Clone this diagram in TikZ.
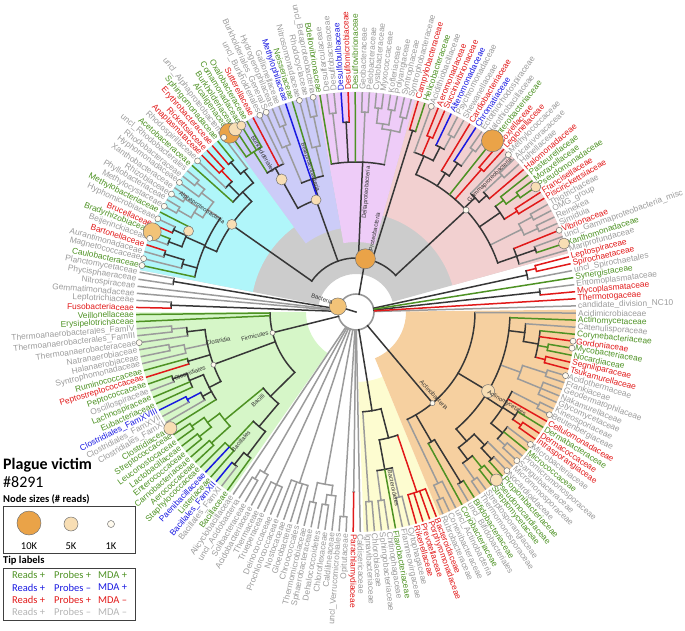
\documentclass[tikz,border=0pt]{standalone}
\usepackage{fontspec}
\setmainfont{Liberation Sans}
\newfontfamily\legendfont{Carlito}
\usepackage{tikz}
\usetikzlibrary{positioning}

\definecolor{tipG}{RGB}{78,146,36}
\definecolor{tipB}{RGB}{25,25,225}
\definecolor{tipR}{RGB}{225,25,25}
\definecolor{tipY}{RGB}{155,155,155}
\definecolor{legY}{RGB}{180,180,180}
\definecolor{dk}{RGB}{55,55,55}
\definecolor{ringgray}{RGB}{150,150,150}
\definecolor{secgray}{RGB}{204,204,204}
\definecolor{secrose}{RGB}{242,208,208}
\definecolor{secpink}{RGB}{238,204,248}
\definecolor{secviolet}{RGB}{204,204,248}
\definecolor{seccyan}{RGB}{176,246,250}
\definecolor{secgreen}{RGB}{214,246,200}
\definecolor{secyellow}{RGB}{253,252,208}
\definecolor{secorange}{RGB}{246,208,160}
\definecolor{nodeorange}{RGB}{234,163,72}
\definecolor{nodelight}{RGB}{242,195,120}
\definecolor{nodepeach}{RGB}{248,222,180}
\definecolor{nodeivory}{RGB}{255,250,238}

% arc of a clade between tips #1..#2 at radius #3, stem at tip #5 down to #4
\newcommand{\cladearc}[6]{%
  \pgfmathsetmacro\angA{1.6+(#1-1)*1.846}%
  \pgfmathsetmacro\angB{1.6+(#2-1)*1.846}%
  \pgfmathsetmacro\angM{1.6+(#5-1)*1.846}%
  \draw[branch,draw=#6] (\angA:#3pt) arc[start angle=\angA,end angle=\angB,radius=#3pt];%
  \draw[branch,draw=#6] (\angM:#3pt) -- (\angM:#4pt);%
}
\newcommand{\wedgefill}[5]{%
  \fill[#5] (#1:#3pt) arc[start angle=#1,end angle=#2,radius=#3pt] -- (#2:#4pt)
    arc[start angle=#2,end angle=#1,radius=#4pt] -- cycle;}
\newcommand{\tipdot}[3]{%
  \pgfmathsetmacro\angD{1.6+(#1-1)*1.846}%
  \node[sizedot,minimum size=#2pt,fill=#3] (d#1) at (\angD:219pt) {};}

\begin{document}
\begin{tikzpicture}[
  tiplab/.style={font=\fontsize{8.4}{9}\selectfont, inner sep=0pt},
  tipline/.style={line width=1.5pt},
  branch/.style={line width=1.5pt, line cap=rect},
  sizedot/.style={circle, draw=black!55, line width=0.5pt, inner sep=0pt},
  cladelab/.style={font=\fontsize{6}{7}\selectfont, text=black!80, inner sep=0.5pt},
  legtext/.style={font=\legendfont\fontsize{10.5}{12}\selectfont, inner sep=0pt}
]
\useasboundingbox (-356pt,-318pt) rectangle (329pt,312pt);

% clade backgrounds
\wedgefill{15.5}{169}{38}{220}{secgray}
\wedgefill{15.5}{74.5}{100}{220}{secrose}
\wedgefill{74.5}{100.3}{70}{220}{secpink}
\wedgefill{100.3}{126.2}{85}{220}{secviolet}
\wedgefill{126.2}{169}{105}{220}{seccyan}
\wedgefill{180.1}{235.1}{50}{220}{secgreen}
\wedgefill{272}{292.3}{70}{220}{secyellow}
\wedgefill{292.3}{360.6}{50}{220}{secorange}

% root
\draw[line width=1.6pt, draw=ringgray] (0,0) circle[radius=18pt];
\draw[branch,draw=dk] (0,0) -- (163:18pt);

% internal branches
\foreach \ca/\cb/\cr/\cp/\cm/\cs in {
  3/4/185/18/3.5/dk, 7/8/185/175/7.5/tipR, 6/7.5/175/18/6.75/dk,
  10/11/190/170/10.5/dk, 9/12/170/150/10.5/dk,
  13/14/200/185/13.5/tipY, 15/16/200/185/15.5/tipY, 13.5/15.5/185/150/14.5/tipY,
  17/18/190/175/17.5/tipR, 19/20/200/185/19.5/tipG, 19.5/21/185/175/20.25/tipG,
  17.5/20.25/175/150/18.875/dk,
  23/24/200/175/23.5/tipY, 22/23.5/175/165/22.75/dk, 22.75/25/165/150/23.875/dk,
  26/27/190/150/26.5/tipR,
  29/30/200/180/29.5/tipY, 29.5/31/180/165/30.25/dk, 30.25/32/165/150/31.125/dk,
  33/34/200/185/33.5/tipY, 33.5/35/185/170/34.25/dk, 36/37/190/170/36.5/tipR,
  34.25/38/170/150/36.125/dk,
  10.5/36.125/150/54/23.31/dk,
  39/40/190/54/39.5/dk,
  41/42/200/185/41.5/tipY, 43/44/205/190/43.5/tipY, 45/46/205/190/45.5/tipY,
  43.5/45.5/190/185/44.5/tipY, 41.5/44.5/185/150/43/tipY,
  47/48/200/150/47.5/tipY, 50/51/190/150/50.5/dk, 52/53/200/150/52.5/tipY,
  43/54/150/54/47.5/dk,
  55/56/200/170/55.5/tipY, 55.5/57/170/140/56.25/tipY,
  60/61/200/180/60.5/tipY, 60.5/62/180/140/61.25/tipY,
  56.25/61.25/140/119/58.75/dk,
  65/68/190/165/66.5/tipG, 63/66.5/165/119/64.75/dk,
  58.75/64.75/119/54/59.5/dk,
  70/71/195/180/70.5/dk, 69/70.5/180/165/69.75/dk,
  72/73/195/180/72.5/tipR, 72.5/74/180/165/73.25/dk,
  69.75/75/165/152/72.375/dk,
  76/77/205/195/76.5/tipY, 76.5/78/195/180/77.25/tipY,
  79/80/205/190/79.5/tipY, 81/82/205/190/81.5/tipY, 79.5/81.5/190/180/80.5/tipY,
  77.25/80.5/180/165/78.875/tipY,
  84/85/200/186/84.5/dk, 86/87/200/186/86.5/dk, 83/86.5/186/165/84.75/dk,
  88/89/200/180/88.5/dk, 88.5/90/180/165/89.25/dk,
  78.875/91/165/152/84.94/dk,
  72.375/84.94/152/54/78.66/dk,
  23.31/78.66/54/18/43.5/dk,
  92/93/185/18/92.5/dk, 96/97/185/18/96.5/dk,
  100/101/185/170/100.5/tipY, 100.5/102/170/152/101.25/dk,
  103/104/190/175/103.5/tipY, 103.5/105/175/152/104.25/tipY,
  106/107/175/152/106.5/dk,
  108/109/195/180/108.5/dk, 108.5/111/180/165/109.75/dk,
  112/113/190/175/112.5/tipB, 112.5/114/175/165/113.25/dk,
  109.75/115/165/152/112.375/dk,
  101.25/112.375/152/86/108.6/dk,
  116/117/200/185/116.5/tipG, 118/119/200/185/118.5/tipG,
  116.5/118.5/185/170/117.5/tipG, 120/121/195/170/120.5/tipG,
  117.5/120.5/170/120/119/tipG,
  122/124/185/150/123/tipG, 125/126/195/180/125.5/dk, 125.5/127/180/150/126.25/dk,
  123/126.25/150/120/124.6/dk,
  119/124.6/120/86/121.8/dk,
  98/121.8/86/18/105.2/dk,
  129/130/195/185/129.5/tipY, 129.5/131/185/18/130.25/tipY,
  132/134/190/18/133/tipY, 135/138/180/18/136.5/tipY,
  139/140/195/175/139.5/tipY, 141/142/195/185/141.5/tipY,
  141.5/143/185/175/142.25/tipY, 139.5/142.25/175/18/140.875/tipY,
  144/145/205/18/144.5/tipY, 145.9/146.1/180/18/146/tipY,
  148/149/190/100/148.5/tipY, 150/151/190/160/150.5/tipY, 153/154/190/160/153.5/tipY,
  150.5/153.5/160/130/152/dk, 155/158/190/130/156.5/tipR,
  152/156.5/130/100/154.25/dk, 148.5/154.25/100/18/151.4/dk,
  159/160/205/190/159.5/tipY, 159.5/161/190/119/160.25/tipY,
  163/164/200/150/163.5/dk, 162/163.5/150/119/162.75/dk,
  165/166/205/185/165.5/tipY, 167/168/200/185/167.5/tipG,
  165.5/167.5/185/170/166.5/dk, 169/170/200/185/169.5/dk,
  169.5/171/185/170/170.25/dk, 166.5/170.25/170/154/168.375/dk,
  172/173/200/190/172.5/tipY, 172.5/175/190/175/173.75/dk,
  176/177/200/190/176.5/tipR, 176.5/178/190/175/177.25/dk,
  180/181/205/175/180.5/tipY, 173.75/180.5/175/154/177.125/dk,
  182/184/200/175/183/tipY, 185/186/200/175/185.5/tipY, 183/185.5/175/154/184.25/tipY,
  187/188/195/185/187.5/tipR, 189/190/195/185/189.5/tipG,
  187.5/192/185/170/189.75/dk, 189.75/193/170/154/191.375/dk,
  168.375/194/154/119/178.4/dk,
  160.25/195/119/18/168.1/dk}
  {\cladearc{\ca}{\cb}{\cr}{\cp}{\cm}{\cs}}

% tips and their labels
\foreach \ix/\nm/\cl/\ri in {
 1/candidate\_division\_NC10/tipY/18, 2/Thermotogaceae/tipR/18,
 3/Mycoplasmataceae/tipR/185, 4/Entomoplasmataceae/tipY/185,
 5/Synergistaceae/tipG/18, 6/uncl\_Spirochaetales/tipY/175,
 7/Spirochaetaceae/tipR/185, 8/Leptospiraceae/tipR/185,
 9/Mariprofundaceae/tipY/170, 10/Xanthomonadaceae/tipG/190,
 11/uncl\_Gammaproteobacteria\_misc/tipY/190, 12/Vibrionaceae/tipR/170,
 13/Simiduia/tipY/200, 14/Reinekea/tipY/200, 15/OMG\_group/tipY/200,
 16/Thiotrichaceae/tipY/200, 17/Piscirickettsiaceae/tipR/190,
 18/Francisellaceae/tipR/190, 19/Pseudomonadaceae/tipG/200,
 20/Moraxellaceae/tipG/200, 21/Pasteurellaceae/tipG/185,
 22/Halomonadaceae/tipR/175, 23/Hahellaceae/tipY/200,
 24/Alcanivoracaceae/tipY/200, 25/Methylococcaceae/tipY/165,
 26/Legionellaceae/tipR/190, 27/Coxiellaceae/tipR/190,
 28/Enterobacteriaceae/tipG/150, 29/Halothiobacillaceae/tipY/200,
 30/Ectothiorhodospiraceae/tipY/200, 31/Chromatiaceae/tipB/180,
 32/Cardiobacteriaceae/tipR/165, 33/Shewanellaceae/tipY/200,
 34/Psychromonadaceae/tipY/200, 35/Alteromonadaceae/tipB/185,
 36/Succinivibrionaceae/tipR/190, 37/Aeromonadaceae/tipR/190,
 38/Acidithiobacillaceae/tipY/170, 39/Helicobacteraceae/tipG/190,
 40/Campylobacteraceae/tipR/190, 41/Syntrophobacteraceae/tipY/200,
 42/Syntrophaceae/tipY/200, 43/Polyangiaceae/tipY/205,
 44/Kofleriaceae/tipY/205, 45/Myxococcaceae/tipY/205,
 46/Cystobacteraceae/tipY/205, 47/Pelobacteraceae/tipY/200,
 48/Geobacteraceae/tipY/200, 49/Desulfovibrionaceae/tipG/150,
 50/Desulfomicrobiaceae/tipR/190, 51/Desulfobulbaceae/tipB/190,
 52/Desulfobacteraceae/tipY/200, 53/Desulfarculaceae/tipY/200,
 54/Bdellovibrionaceae/tipG/150, 55/uncl\_Betaproteobacteria/tipY/200,
 56/Rhodocyclaceae/tipY/200, 57/Nitrosomonadaceae/tipY/170,
 58/Neisseriaceae/tipG/140, 59/Methylophilaceae/tipB/119,
 60/Gallionellaceae/tipY/200, 61/Hydrogenophilaceae/tipY/200,
 62/Burkholderiales\_GeneraIS/tipY/180, 63/uncl\_Burkholderiales/tipY/165,
 64/Sutterellaceae/tipR/165, 65/Oxalobacteraceae/tipG/190,
 66/Comamonadaceae/tipG/190, 67/Burkholderiaceae/tipG/190,
 68/Alcaligenaceae/tipG/190, 69/uncl\_Alphaproteobacteria/tipY/180,
 70/Sphingomonadaceae/tipG/195, 71/Erythrobacteraceae/tipR/195,
 72/Rickettsiaceae/tipR/195, 73/Anaplasmataceae/tipR/195,
 74/Rhodospirillaceae/tipY/180, 75/Acetobacteraceae/tipG/165,
 76/uncl\_Rhodobacterales/tipY/205, 77/Rhodobacteraceae/tipY/205,
 78/Hyphomonadaceae/tipY/195, 79/Xanthobacteraceae/tipY/205,
 80/Rhizobiaceae/tipY/205, 81/Phyllobacteriaceae/tipY/205,
 82/Methylocystaceae/tipY/205, 83/Methylobacteriaceae/tipG/186,
 84/Hyphomicrobiaceae/tipY/200, 85/Brucellaceae/tipR/200,
 86/Bradyrhizobiaceae/tipG/200, 87/Beijerinckiaceae/tipY/200,
 88/Bartonellaceae/tipR/200, 89/Aurantimonadaceae/tipY/200,
 90/Magnetococcaceae/tipY/180, 91/Caulobacteraceae/tipG/165,
 92/Planctomycetaceae/tipY/185, 93/Phycisphaeraceae/tipY/185,
 94/Nitrospiraceae/tipY/18, 95/Gemmatimonadaceae/tipY/18,
 96/Leptotrichiaceae/tipY/185, 97/Fusobacteriaceae/tipR/185,
 98/Veillonellaceae/tipG/86, 99/Erysipelotrichaceae/tipG/86,
 100/Thermoanaerobacterales\_FamIV/tipY/185,
 101/Thermoanaerobacterales\_FamIII/tipY/185,
 102/Thermoanaerobacteraceae/tipY/170, 103/Natranaerobiaceae/tipY/190,
 104/Halanaerobiaceae/tipY/190, 105/Syntrophomonadaceae/tipY/175,
 106/Ruminococcaceae/tipG/175, 107/Peptostreptococcaceae/tipR/175,
 108/Peptococcaceae/tipG/195, 109/Oscillospiraceae/tipY/195,
 110/Lachnospiraceae/tipG/180, 111/Eubacteriaceae/tipG/180,
 112/Clostridiales\_FamXVIII/tipB/190, 113/Clostridiales\_FamXVII/tipY/190,
 114/Clostridiales\_FamXI/tipY/175, 115/Clostridiaceae/tipG/165,
 116/Streptococcaceae/tipG/200, 117/Leuconostocaceae/tipG/200,
 118/Lactobacillaceae/tipG/200, 119/Enterococcaceae/tipG/200,
 120/Carnobacteriaceae/tipG/195, 121/Aerococcaceae/tipG/195,
 122/Staphylococcaceae/tipG/185, 123/Paenibacillaceae/tipB/185,
 124/Listeriaceae/tipG/185, 125/Bacillales\_FamXII/tipB/195,
 126/Bacillales\_FamXI/tipY/195, 127/Bacillaceae/tipG/180,
 128/Alicyclobacillaceae/tipY/18, 129/uncl\_Acidobacteria/tipY/195,
 130/Solibacteraceae/tipY/195, 131/Acidobacteriaceae/tipY/185,
 132/Thermaceae/tipY/190, 133/Trueperaceae/tipY/190,
 134/Deinococcaceae/tipY/190, 135/Prochlorococcaceae/tipY/180,
 136/Nostocaceae/tipY/180, 137/Gloeobacteria/tipY/180,
 138/Chroococcales/tipY/180, 139/Thermomicrobiaceae/tipY/195,
 140/Sphaerobacteraceae/tipY/195, 141/Dehalococcoidetes/tipY/195,
 142/Chloroflexaceae/tipY/195, 143/Caldilineaceae/tipY/185,
 144/uncl\_Verrucomicrobiales/tipY/205, 145/Opitutaceae/tipY/205,
 146/Parachlamydiaceae/tipR/180, 147/Caldisericaceae/tipY/18,
 148/Ignavibacteriaceae/tipY/190, 149/Chlorobiaceae/tipY/190,
 150/Sphingobacteriaceae/tipY/190, 151/Chitinophagaceae/tipY/190,
 152/Flavobacteriaceae/tipG/160, 153/Flammeovirgaceae/tipY/190,
 154/Cytophagaceae/tipY/190, 155/Rikenellaceae/tipR/190,
 156/Prevotellaceae/tipR/190, 157/Porphyromonadaceae/tipR/190,
 158/Bacteroidaceae/tipR/190, 159/Rubrobacteraceae/tipY/205,
 160/Conexibacteraceae/tipY/205, 161/uncl\_Actinobacteria/tipY/190,
 162/Coriobacteriaceae/tipG/150, 163/uncl\_Bifidobacteriales/tipY/200,
 164/Bifidobacteriaceae/tipG/200, 165/Thermomonosporaceae/tipY/205,
 166/Streptosporangiaceae/tipY/205, 167/Streptomycetaceae/tipG/200,
 168/Pseudonocardiaceae/tipG/200, 169/Propionibacteriaceae/tipG/200,
 170/Nocardioidaceae/tipY/200, 171/Micromonosporaceae/tipY/185,
 172/Sanguibacteraceae/tipY/200, 173/Promicromonosporaceae/tipY/200,
 174/Micrococcaceae/tipG/190, 175/Microbacteriaceae/tipY/190,
 176/Intrasporangiaceae/tipR/200, 177/Dermacoccaceae/tipR/200,
 178/Dermabacteraceae/tipG/190, 179/Cellulomonadaceae/tipR/175,
 180/Beutenbergiaceae/tipY/205, 181/Kineosporiaceae/tipY/205,
 182/Glycomycetaceae/tipY/200, 183/Nakamurellaceae/tipY/200,
 184/Geodermatophilaceae/tipY/200, 185/Frankiaceae/tipY/200,
 186/Acidothermaceae/tipY/200, 187/Tsukamurellaceae/tipR/195,
 188/Segniliparaceae/tipR/195, 189/Nocardiaceae/tipG/195,
 190/Mycobacteriaceae/tipG/195, 191/Gordoniaceae/tipR/185,
 192/Corynebacteriaceae/tipG/185, 193/Catenulisporaceae/tipY/170,
 194/Actinomycetaceae/tipG/154, 195/Acidimicrobiaceae/tipY/119}
{
  \pgfmathsetmacro\ang{1.6+(\ix-1)*1.846}
  \draw[tipline,draw=\cl] (\ang:220pt) -- (\ang:\ri pt);
  \pgfmathtruncatemacro\rside{(\ang<98.5 || \ang>268.3) ? 1 : 0}
  \ifnum\rside=1
    \node[tiplab,text=\cl,anchor=west,rotate=\ang] (t\ix) at (\ang:222pt) {\nm};
  \else
    \pgfmathsetmacro\rot{\ang-180}
    \node[tiplab,text=\cl,anchor=east,rotate=\rot] (t\ix) at (\ang:222pt) {\nm};
  \fi
}

% read-count circles at tips
\foreach \ix/\sz/\fl in {28/22/nodeorange, 68/20/nodeorange, 86/18/nodelight,
  67/13/nodepeach, 66/9/nodepeach, 10/11/nodepeach, 19/10/nodepeach,
  115/13/nodepeach, 168/12/nodepeach,
  12/6/nodeivory, 25/6/nodeivory, 38/6/nodeivory, 55/6/nodeivory, 57/6/nodeivory,
  62/6/nodeivory, 63/6/nodeivory, 69/6/nodeivory, 74/6/nodeivory, 78/6/nodeivory,
  80/6/nodeivory, 82/6/nodeivory, 84/6/nodeivory, 87/6/nodeivory, 90/6/nodeivory,
  91/6/nodeivory, 102/6/nodeivory, 170/6/nodeivory, 172/6/nodeivory,
  175/6/nodeivory, 180/6/nodeivory, 186/6/nodeivory, 190/6/nodeivory,
  191/6/nodeivory}
  {\tipdot{\ix}{\sz}{\fl}}

% read-count circles at inner nodes
\node[sizedot,minimum size=17pt,fill=nodelight] (bact) at (163:19pt) {};
\node[sizedot,minimum size=20pt,fill=nodeorange] (prot) at (80:54pt) {};
\node[sizedot,minimum size=10pt,fill=nodepeach] (alpha) at (144.8:152pt) {};
\node[sizedot,minimum size=10pt,fill=nodepeach] (alphasub) at (154.2:186pt) {};
\node[sizedot,minimum size=10pt,fill=nodepeach] (beta) at (109.6:119pt) {};
\node[sizedot,minimum size=11pt,fill=nodepeach] (burk) at (119.3:152pt) {};
\node[sizedot,minimum size=6pt,fill=nodeivory] (gamma) at (42.8:150pt) {};
\node[sizedot,minimum size=13pt,fill=nodepeach] (actmyc) at (329.1:154pt) {};
\node[sizedot,minimum size=5pt,fill=nodeivory] (actino) at (310:119pt) {};
\node[sizedot,minimum size=5pt,fill=nodeivory] (firm) at (194:86pt) {};
\node[sizedot,minimum size=5pt,fill=nodeivory] (clos) at (200.3:152pt) {};

% clade names
\node[cladelab,rotate=-18] (lbact) at (-34pt,13pt) {Bacteria};
\node[cladelab,rotate=79] (lprot) at (77:82pt) {Proteobacteria};
\node[cladelab,rotate=85.5] (ldelta) at (85:120pt) {Deltaproteobacteria};
\node[cladelab,rotate=-34] (lalpha) at (146:186pt) {Alphaproteobacteria};
\node[cladelab,rotate=-72.5] (lbeta) at (107.5:152pt) {Betaproteobacteria};
\node[cladelab,rotate=-60] (lburk) at (120.5:183pt) {Burkholderiales};
\node[cladelab,rotate=44.6] (lgamma) at (44.6:188pt) {Gammaproteobacteria};
\node[cladelab,rotate=-46.8] (lactino) at (-46.8:114pt) {Actinobacteria};
\node[cladelab,rotate=-31.2] (lactmyc) at (-31.2:176pt) {Actinomycetales};
\node[cladelab,rotate=-78] (lbacter) at (-78:180pt) {Bacteroidetes};
\node[cladelab,rotate=13.4] (lfirm) at (193.4:104pt) {Firmicutes};
\node[cladelab,rotate=11.9] (lclos) at (191.9:141pt) {Clostridia};
\node[cladelab,rotate=20.2] (lclosl) at (200.2:177pt) {Clostridiales};
\node[cladelab,rotate=42] (lbacilli) at (222:132pt) {Bacilli};
\node[cladelab,rotate=48.3] (lbacl) at (228.3:173pt) {Bacillales};

% legend
\node[anchor=north west, inner sep=0pt, font=\legendfont\bfseries\fontsize{16}{18}\selectfont]
  (title) at (-353pt,-146pt) {Plague victim};
\node[anchor=north west, inner sep=0pt, font=\legendfont\fontsize{16}{18}\selectfont,
  below right=4pt and 0pt of title.south west] (victim) {\#8291};
\node[anchor=north west, inner sep=0pt, font=\legendfont\bfseries\fontsize{10.5}{12}\selectfont]
  (sizehead) at (-353pt,-182pt) {Node sizes (\# reads)};
\draw[black!75, line width=0.8pt] (-353pt,-194pt) rectangle (-221pt,-241pt);
\node[sizedot,minimum size=24pt,fill=nodeorange] (k10) at (-327pt,-211pt) {};
\node[sizedot,minimum size=14pt,fill=nodepeach] (k5) at (-285pt,-212pt) {};
\node[sizedot,minimum size=7pt,fill=nodeivory] (k1) at (-245pt,-212pt) {};
\node[legtext] (k10lab) at (-327pt,-234pt) {10K};
\node[legtext] (k5lab) at (-285pt,-234pt) {5K};
\node[legtext] (k1lab) at (-245pt,-234pt) {1K};
\node[anchor=north west, inner sep=0pt, font=\legendfont\bfseries\fontsize{10.5}{12}\selectfont]
  (tiphead) at (-353pt,-244pt) {Tip labels};
\draw[black!75, line width=0.8pt] (-353pt,-256pt) rectangle (-221pt,-308pt);
\foreach \k/\cl/\ps/\ms in {0/tipG/+/+, 1/tipB/–/+, 2/tipR/+/–, 3/legY/–/–}{
  \node[legtext,anchor=west,text=\cl] (reads\k) at (-344pt,-263pt-\k*12.4pt) {Reads +};
  \node[legtext,anchor=west,text=\cl] (probes\k) at (-302pt,-263pt-\k*12.4pt) {Probes \ps};
  \node[legtext,anchor=west,text=\cl] (mda\k) at (-258pt,-263pt-\k*12.4pt) {MDA \ms};
}
\end{tikzpicture}
\end{document}
